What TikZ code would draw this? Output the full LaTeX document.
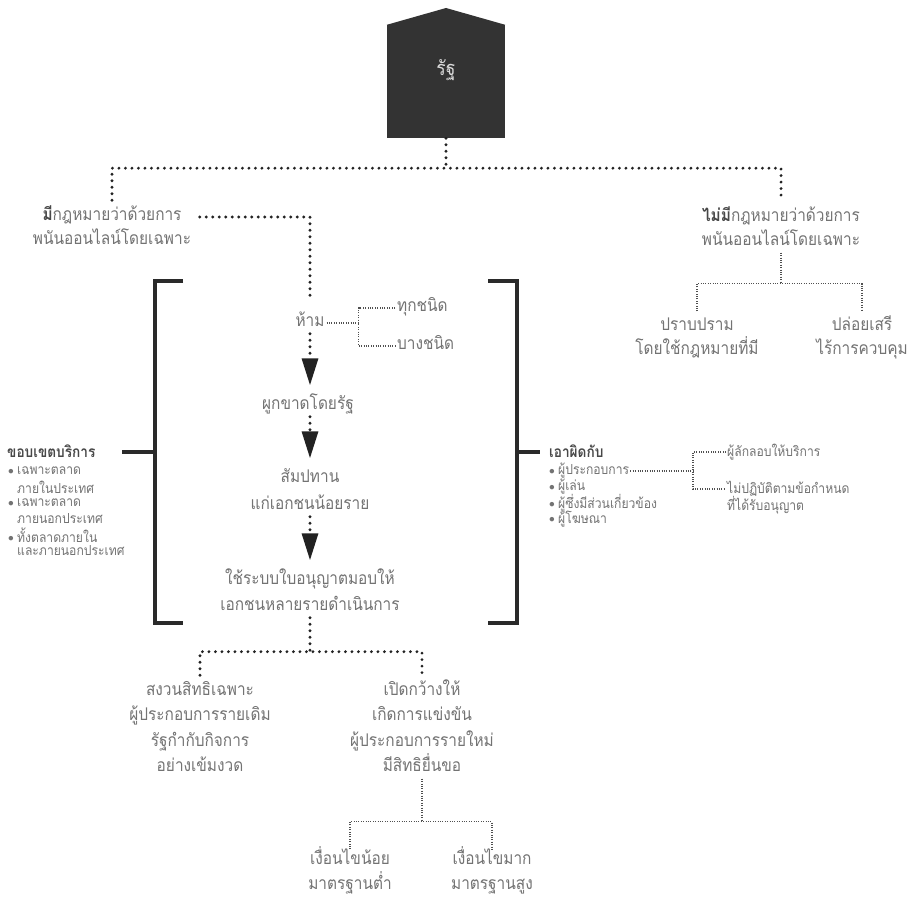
\documentclass[tikz,border=0pt]{standalone}
\usepackage{fontspec}
\setmainfont[Script=Thai, FakeStretch=0.88]{Loma}
\usetikzlibrary{arrows.meta}
\definecolor{tgray}{HTML}{737373}
\definecolor{tdark}{HTML}{484848}
\definecolor{housec}{HTML}{333333}
\definecolor{linec}{HTML}{2A2A2A}
\definecolor{dotc}{HTML}{222222}
\definecolor{dotf}{HTML}{505050}
\newcommand\bd[1]{\textcolor{tdark}{\bfseries #1}}
\newcommand\bul{\makebox[9pt][l]{\raisebox{0.5pt}{\scalebox{0.8}{$\bullet$}}}}
\begin{document}
\begin{tikzpicture}[x=1pt,y=-1pt,
  txt/.style={text=tgray, font=\fontsize{17.5}{20}\selectfont, inner sep=2pt, text height=12pt, text depth=5pt},
  sml/.style={text=tgray, font=\fontsize{13.8}{16}\selectfont, inner sep=1pt, anchor=west},
  hd/.style={sml, font=\fontsize{15.5}{18}\selectfont},
  bigdot/.style={draw=dotc, line width=3.2pt, line cap=round, dash pattern=on 0pt off 6.5pt},
  finedot/.style={draw=dotf, line width=1.2pt, dash pattern=on 1pt off 1.4pt},
  flow/.style={bigdot, -{Triangle[length=27pt,width=16pt]}, shorten >=10pt},
  brk/.style={draw=linec, line width=3.5pt}]
\useasboundingbox (0,0) rectangle (922,907);
\fill[white] (0,0) rectangle (922,907);

% house
\node[fill=housec, minimum width=118pt, minimum height=113pt, inner sep=0pt] (state) at (446,81.5) {};
\fill[housec] (state.north west) -- (446,8) -- (state.north east) -- cycle;
\node[text=white!72!gray, font=\fontsize{20}{22}\selectfont] (statelbl) at (446,70) {รัฐ};

% top level labels
\node[txt] (haslawA) at (112,217) {\bd{มี}กฎหมายว่าด้วยการ};
\node[txt] (haslawB) at (112,241) {พนันออนไลน์โดยเฉพาะ};
\node[txt] (nolawA) at (781,218) {\bd{ไม่มี}กฎหมายว่าด้วยการ};
\node[txt] (nolawB) at (781,242) {พนันออนไลน์โดยเฉพาะ};

\draw[bigdot] (state.south) -- ++(0,30) coordinate (j1);
\draw[bigdot] ([yshift=6pt]haslawA.north) |- (j1) -| ([yshift=6pt]nolawA.north);

% right branch
\node[txt] (suppA) at (697,327) {ปราบปราม};
\node[txt] (suppB) at (697,351) {โดยใช้กฎหมายที่มี};
\node[txt] (freeA) at (862,327) {ปล่อยเสรี};
\node[txt] (freeB) at (862,351) {ไร้การควบคุม};
\draw[finedot] (nolawB.south) -- ++(0,31) coordinate (j2);
\draw[finedot] ([yshift=5pt]suppA.north) |- (j2) -| ([yshift=5pt]freeA.north);

% main flow
\node[txt] (ban) at (310,323) {ห้าม};
\node[txt] (allk) [anchor=west] at (395,308) {ทุกชนิด};
\node[txt] (somek) [anchor=west] at (395,346) {บางชนิด};
\node[txt] (mono) at (308,406) {ผูกขาดโดยรัฐ};
\node[txt] (conA) at (310,479) {สัมปทาน};
\node[txt] (conB) at (310,506) {แก่เอกชนน้อยราย};
\node[txt] (licA) at (310,581) {ใช้ระบบใบอนุญาตมอบให้};
\node[txt] (licB) at (310,607) {เอกชนหลายรายดำเนินการ};

\draw[bigdot, shorten <=16pt, shorten >=12pt] (haslawA.east) -| (ban.north);
\draw[finedot] (ban.east) -- ++(32,0) coordinate (bj);
\draw[finedot] (allk.west) -| (bj) |- (somek.west);
\draw[flow] (ban.south) -- (ban.south |- mono.north);
\draw[flow] (mono.south -| conA.north) -- (conA.north);
\draw[flow] (conB.south) -- (licA.north);

% brackets
\draw[brk] (183,281) -- (155,281) -- (155,623) -- (183,623);
\draw[brk] (488,281) -- (517,281) -- (517,623) -- (488,623);
\coordinate (lspine) at (155,452);
\coordinate (rspine) at (517,452);

% left sidebar
\node[hd] (scopeH) at (6,451) {\bd{ขอบเขตบริการ}};
\node[sml] (sc1) at (7,471) {\bul เฉพาะตลาด};
\node[sml] (sc1b) at (16,487) {ภายในประเทศ};
\node[sml] (sc2) at (7,503) {\bul เฉพาะตลาด};
\node[sml] (sc2b) at (16,519) {ภายนอกประเทศ};
\node[sml] (sc3) at (7,535) {\bul ทั้งตลาดภายใน};
\node[sml] (sc3b) at (16,551) {และภายนอกประเทศ};
\draw[brk] (lspine) -- (lspine -| 122,0);

% right sidebar
\node[hd] (punH) at (548,451) {\bd{เอาผิดกับ}};
\node[sml] (pp1) at (548,471) {\bul ผู้ประกอบการ};
\node[sml] (pp2) at (548,487) {\bul ผู้เล่น};
\node[sml] (pp3) at (548,503) {\bul ผู้ซึ่งมีส่วนเกี่ยวข้อง};
\node[sml] (pp4) at (548,519) {\bul ผู้โฆษณา};
\draw[brk] (rspine) -- (rspine -| 540,0);
\node[sml] (smug) at (726,452) {ผู้ลักลอบให้บริการ};
\node[sml] (nonc) at (726,489) {ไม่ปฏิบัติตามข้อกำหนด};
\node[sml] (noncb) at (726,505) {ที่ได้รับอนุญาต};
\coordinate (pjx) at (693,0);
\coordinate (pj) at (pp1.east -| pjx);
\draw[finedot] (pp1.east) -- (pj);
\draw[finedot] (smug.west) -| (pj) |- (nonc.west);

% bottom
\node[txt] (resA) at (200,692) {สงวนสิทธิเฉพาะ};
\node[txt] (resB) at (200,717) {ผู้ประกอบการรายเดิม};
\node[txt] (resC) at (200,743) {รัฐกำกับกิจการ};
\node[txt] (resD) at (200,768) {อย่างเข้มงวด};
\node[txt] (opnA) at (422,692) {เปิดกว้างให้};
\node[txt] (opnB) at (422,717) {เกิดการแข่งขัน};
\node[txt] (opnC) at (422,743) {ผู้ประกอบการรายใหม่};
\node[txt] (opnD) at (422,768) {มีสิทธิยื่นขอ};
\draw[bigdot] (licB.south) -- ++(0,34) coordinate (j3);
\draw[bigdot] ([yshift=6pt]resA.north) |- (j3) -| ([yshift=6pt]opnA.north);

\node[txt] (lessA) at (350,861) {เงื่อนไขน้อย};
\node[txt] (lessB) at (350,886) {มาตรฐานต่ำ};
\node[txt] (moreA) at (492,861) {เงื่อนไขมาก};
\node[txt] (moreB) at (492,886) {มาตรฐานสูง};
\draw[finedot] (opnD.south) -- ++(0,43) coordinate (j4);
\draw[finedot] ([yshift=1pt]lessA.north) |- (j4) -| ([yshift=1pt]moreA.north);
\end{tikzpicture}
\end{document}
